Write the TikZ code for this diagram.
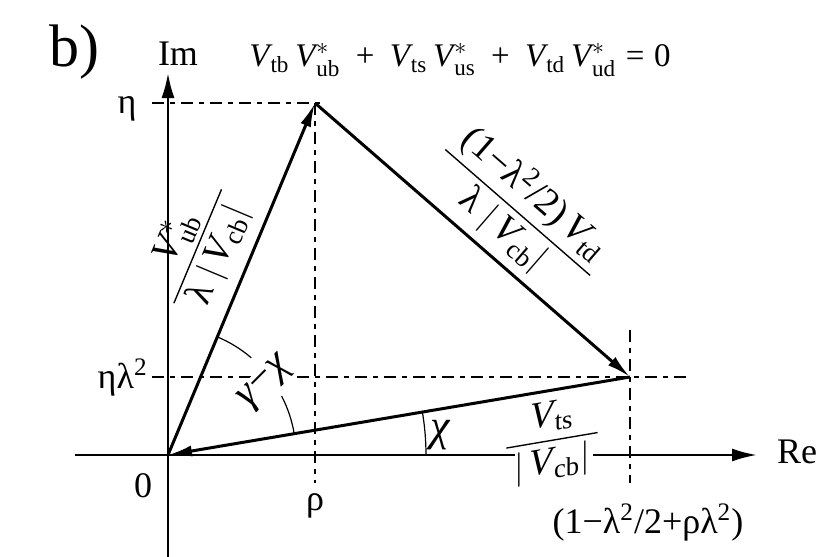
\documentclass[tikz,border=0pt]{standalone}
\usepackage{amsmath}
\usepackage{fontspec}
\setmainfont{Liberation Serif}
\usetikzlibrary{arrows.meta}
\newcommand\Vx{\mbox{\itshape V\kern0.03em}}
\newcommand\plusop{\mathbin{\text{+}}}
\newcommand\pad[2]{\hspace{#1}#2\hspace{#1}}
\begin{document}
\begin{tikzpicture}[x=0.5pt,y=-0.5pt,
  vec/.style={line width=1.5pt,-{Latex[length=12pt,width=5.5pt]}},
  axisplain/.style={line width=1.2pt},
  axisline/.style={line width=1.2pt,-{Latex[length=12.5pt,width=6.5pt]}},
  guide/.style={line width=0.9pt,dash pattern=on 6pt off 3pt on 2.5pt off 3pt},
  ang/.style={line width=0.6pt},
  lbl/.style={font=\fontsize{18}{21}\selectfont, inner sep=0pt},
  eqlbl/.style={font=\fontsize{16.5}{20}\selectfont, inner sep=0pt},
  frac/.style={font=\fontsize{19}{22}\selectfont, inner sep=1pt}]
\useasboundingbox (0,0) rectangle (832,557);
\coordinate (O) at (168,455);
\coordinate (T) at (315,103);
\coordinate (R) at (630,377);
\coordinate (xl) at (75,455);
\coordinate (gl) at (515,455);
\coordinate (gr) at (593,455);
\coordinate (xr) at (757,455);
\coordinate (yb) at (168,557);
\coordinate (yt) at (168,73);
\coordinate (h1l) at (152,103);
\coordinate (h1r) at (322,103);
\coordinate (v1b) at (315,483);
\coordinate (h2l) at (152,377);
\coordinate (h2r) at (690,377);
\coordinate (v2t) at (630,330);
\coordinate (v2b) at (630,483);

% guides
\draw[guide] (h1l) -- (h1r);
\draw[guide] (T) -- (v1b);
\draw[guide] (h2l) -- (h2r);
\draw[guide] (v2t) -- (v2b);

% axes (real axis interrupted by its label)
\draw[axisplain] (xl) -- (gl);
\draw[axisline] (gr) -- (xr);
\draw[axisline] (yb) -- (yt);

% angle arcs
\draw[ang] (O) ++(-9.6:128) arc[start angle=-9.6, end angle=-27.4, radius=128];
\draw[ang] (O) ++(-49.4:128) arc[start angle=-49.4, end angle=-67.3, radius=128];
\draw[ang] (O) ++(0:258) arc[start angle=0, end angle=-9.6, radius=258];

% labels
\node[font=\fontsize{30}{34}\selectfont, inner sep=0pt, anchor=base] (lb) at (74,67) {b)};
\node[lbl, anchor=base] (lim) at (178,65) {Im};
\node[lbl, anchor=base] (lre) at (797,463) {Re};
\node[eqlbl, anchor=base] (leq) at (460,67)
  {$\Vx_{\text{tb}}\,\Vx^{*}_{\text{ub}} \:\plusop\:
    \Vx_{\text{ts}}\,\Vx^{*}_{\text{us}} \:\plusop\:
    \Vx_{\text{td}}\,\Vx^{*}_{\text{ud}} \mathrel{\text{=}} \text{0}$};
\node[lbl, anchor=base] (leta) at (127,113) {η};
\node[lbl, anchor=base east] (letal) at (148,388) {ηλ\textsuperscript{2}};
\node[lbl, anchor=base] (lzero) at (143,497) {0};
\node[lbl, anchor=base] (lrho) at (315,510) {ρ};
\node[lbl, anchor=base] (lre1) at (648,533) {(1−λ\textsuperscript{2}/2+ρλ\textsuperscript{2})};
\node[lbl, font=\fontsize{22}{24}\selectfont] (lchi) at (441,435) {\textit{χ}};
\node[lbl, font=\fontsize{21}{24}\selectfont, rotate=45, fill=white, inner sep=0.5pt] (lgc) at (266,383) {\textit{γ}−\textit{χ}};

% vectors
\draw[vec] (O) -- (T);
\draw[vec] (T) -- (R);
\draw[vec] (R) -- (O);

% side fractions
\node[frac, rotate=67.3] (fub) at (197,246)
  {$\dfrac{\Vx^{*}_{\text{ub}}}{\pad{5pt}{\text{λ}\;|\,\Vx_{\text{cb}}|}}$};
\node[frac, rotate=-41] (ftd) at (519,211)
  {$\dfrac{\pad{3pt}{\text{(1−λ\textsuperscript{2}/2)}\,\Vx_{\text{td}}}}{\text{λ}\;|\,\Vx_{\text{cb}}|}$};
\node[frac, yslant=0.17] (fts) at (552,441)
  {$\dfrac{\Vx_{\text{ts}}}{\pad{4pt}{|\,\Vx_{\text{cb}}|}}$};
\end{tikzpicture}
\end{document}
